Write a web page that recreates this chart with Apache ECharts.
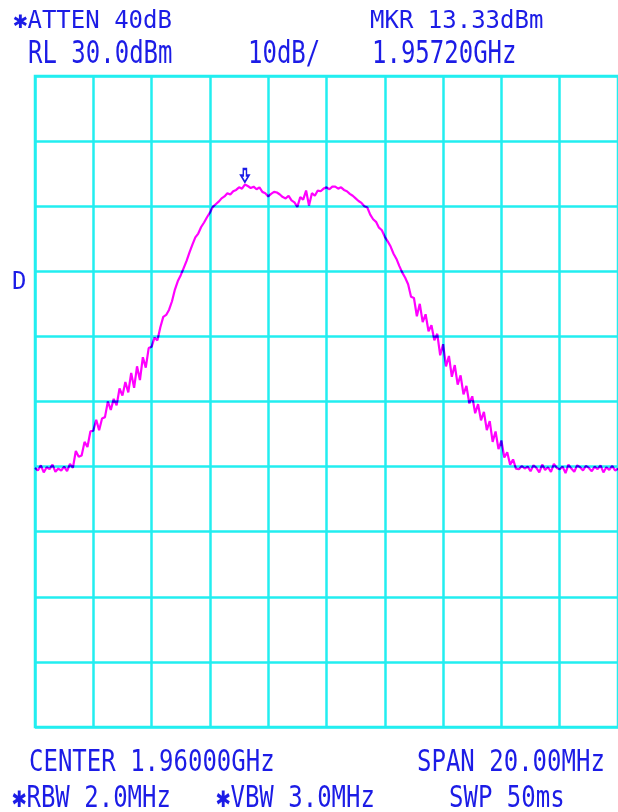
<!DOCTYPE html>
<html>
<head>
<meta charset="utf-8">
<title>Spectrum analyzer trace</title>
<script src="https://cdn.jsdelivr.net/npm/echarts@6/dist/echarts.min.js"></script>
<style>
  html, body { margin: 0; padding: 0; background: #ffffff; }
  #chart { width: 618px; height: 812px; }
</style>
</head>
<body>
<div id="chart"></div>
<script>
// Sweep settings: center 1960 MHz, span 20 MHz, 0.1 MHz per trace point
const startMHz = 1950;
const stepMHz = 0.1;

// Measured trace level (dBm), one value per trace point from 1950.0 to 1970.0 MHz
const traceDbm = [
  -30.2, -30.6, -29.8, -30.9, -30.1, -30.4, -29.7, -30.8, -30.3, -30.6,
  -30.0, -30.7, -29.6, -30.2, -27.6, -28.5, -28.3, -26.2, -27.0, -24.6,
  -24.5, -22.8, -24.4, -22.6, -22.4, -20.0, -21.3, -19.6, -20.6, -18.0,
  -19.1, -17.0, -18.6, -15.6, -17.9, -14.6, -16.7, -13.2, -14.8, -11.8,
  -11.6, -10.2, -10.6, -8.6, -7.0, -6.7, -5.9, -4.6, -2.8, -1.5,
  -0.6, 0.5, 1.6, 2.9, 4.1, 5.2, 5.8, 6.8, 7.5, 8.3,
  9.0, 9.9, 10.3, 10.7, 11.2, 11.5, 12.0, 11.8, 12.3, 12.5,
  12.9, 12.7, 13.33, 13.1, 12.8, 13.0, 12.6, 12.9, 12.2, 12.0,
  11.5, 11.9, 12.2, 12.1, 11.8, 11.4, 11.2, 11.6, 10.9, 10.6,
  9.9, 11.4, 11.0, 12.4, 10.1, 12.0, 11.6, 12.4, 12.3, 12.7,
  12.9, 12.6, 13.0, 13.0, 12.7, 12.9, 12.5, 12.3, 11.9, 11.6,
  11.2, 10.8, 10.5, 10.0, 9.8, 8.7, 8.0, 7.6, 6.7, 6.3,
  5.3, 4.6, 3.8, 2.7, 1.9, 0.8, -0.2, -1.0, -2.0, -3.9,
  -4.1, -6.9, -5.0, -7.8, -6.6, -9.2, -8.3, -10.6, -9.6, -12.9,
  -11.2, -14.6, -13.0, -16.2, -14.4, -17.4, -16.0, -18.9, -17.6, -20.3,
  -19.2, -21.8, -20.4, -22.9, -21.6, -24.4, -23.0, -26.2, -24.6, -27.3,
  -26.0, -28.6, -27.8, -29.7, -28.9, -30.3, -30.4, -29.9, -30.3, -30.0,
  -30.7, -29.8, -30.2, -30.9, -29.7, -30.5, -30.1, -30.8, -29.6, -30.2,
  -30.4, -30.0, -31.0, -29.7, -30.3, -30.8, -29.8, -30.1, -30.6, -29.9,
  -30.2, -30.7, -30.0, -30.4, -29.8, -30.9, -30.1, -30.5, -29.9, -30.6,
  -30.3
];

// Marker readout
const markerMHz = 1957.2;
const markerDbm = 13.33;

// Screen annotation texts
const headerTop = ['\u2731ATTEN 40dB', 'MKR 13.33dBm'];
const headerBottom = ['RL 30.0dBm', '10dB/', '1.95720GHz'];
const footerTop = ['CENTER 1.96000GHz', 'SPAN 20.00MHz'];
const footerBottom = ['\u2731RBW 2.0MHz', '\u2731VBW 3.0MHz', 'SWP 50ms'];
const sideLabel = 'D';

const traceData = traceDbm.map((v, i) => [startMHz + i * stepMHz, v]);

const GRAT = '#22eef0';
const INK = '#1c1ce6';
const MONO = '"DejaVu Sans Mono", "Liberation Mono", monospace';

function label(text, x, y, sy) {
  return {
    type: 'text', x: x, y: y, scaleY: sy || 1, silent: true,
    style: { text: text, font: '24px ' + MONO, fill: INK, verticalAlign: 'middle', align: 'left' }
  };
}

const chart = echarts.init(document.getElementById('chart'), null, { renderer: 'canvas' });

chart.setOption({
  animation: false,
  backgroundColor: '#ffffff',
  grid: {
    left: 35, top: 76, width: 585, height: 651,
    show: true, borderColor: GRAT, borderWidth: 2.5, backgroundColor: 'transparent'
  },
  xAxis: {
    type: 'value', min: 1950, max: 1970, interval: 2,
    axisLine: { show: false }, axisTick: { show: false }, axisLabel: { show: false },
    splitLine: { show: true, lineStyle: { color: GRAT, width: 2.5 } }
  },
  yAxis: {
    type: 'value', min: -70, max: 30, interval: 10,
    axisLine: { show: false }, axisTick: { show: false }, axisLabel: { show: false },
    splitLine: { show: true, lineStyle: { color: GRAT, width: 2.5 } }
  },
  series: [{
    type: 'line',
    data: traceData,
    showSymbol: false,
    smooth: false,
    lineStyle: { color: '#ff00ff', width: 2.2 },
    z: 3,
    markPoint: {
      symbol: 'path://M3,0 L7,0 L7,6 L10,6 L5,12 L0,6 L3,6 Z',
      symbolSize: [8, 13],
      symbolOffset: [0, -9],
      itemStyle: { color: '#ffffff', borderColor: INK, borderWidth: 1.8 },
      label: { show: false },
      data: [{ coord: [markerMHz, markerDbm], value: markerDbm }]
    }
  }],
  graphic: [
    label(headerTop[0], 13, 21.5, 1.0),
    label(headerTop[1], 370, 21.5, 1.0),
    label(headerBottom[0], 28, 55, 1.3),
    label(headerBottom[1], 248, 55, 1.3),
    label(headerBottom[2], 372, 55, 1.3),
    label(sideLabel, 12, 283, 1.0),
    label(footerTop[0], 29, 763, 1.25),
    label(footerTop[1], 417, 763, 1.25),
    label(footerBottom[0], 12, 799, 1.22),
    label(footerBottom[1], 216, 799, 1.22),
    label(footerBottom[2], 449, 799, 1.22)
  ]
});

// Multiply the trace over the graticule so crossings read darker, like the CRT overlay.
const zr = chart.getZr();
zr.storage.getDisplayList(true).forEach(function (el) {
  if (el.style && el.style.stroke === '#ff00ff') {
    el.setStyle('blend', 'multiply');
  }
});
zr.refreshImmediately();
</script>
</body>
</html>
